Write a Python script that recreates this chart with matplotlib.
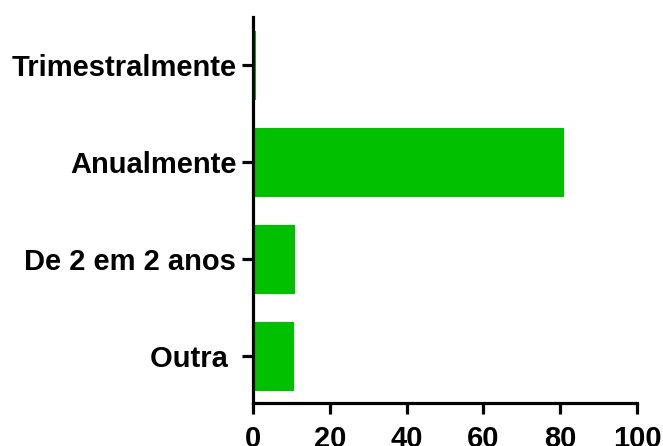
import matplotlib
matplotlib.use("Agg")
import matplotlib.pyplot as plt

plt.rcParams["font.family"] = ["Liberation Sans", "DejaVu Sans"]

categories = ["Outra ", "De 2 em 2 anos", "Anualmente", "Trimestralmente"]
percent = [10.5, 10.6, 80.6, 0.5]
xticks = [0, 20, 40, 60, 80, 100]

bar_color = "#00C000"

fig = plt.figure(figsize=(6.63, 4.46), dpi=100)
ax = fig.add_axes([0.3816, 0.0964, 0.5792, 0.8655])

ax.barh(range(len(categories)), percent, height=0.7, color=bar_color,
        edgecolor=bar_color, linewidth=0.8, joinstyle="round")

ax.set_xlim(0, 100)
ax.set_ylim(-0.485, 3.495)
ax.set_xticks(xticks)
ax.set_yticks(range(len(categories)))
ax.set_yticklabels(categories)

for side in ("top", "right"):
    ax.spines[side].set_visible(False)
for side in ("left", "bottom"):
    ax.spines[side].set_linewidth(2.3)
    ax.spines[side].set_capstyle("projecting")

ax.tick_params(axis="both", width=2.3, length=8, labelsize=21)
ax.tick_params(axis="y", pad=4)
ax.tick_params(axis="x", pad=8)
for lbl in ax.get_xticklabels() + ax.get_yticklabels():
    lbl.set_fontweight("bold")

fig.savefig("out.png", dpi=100)
